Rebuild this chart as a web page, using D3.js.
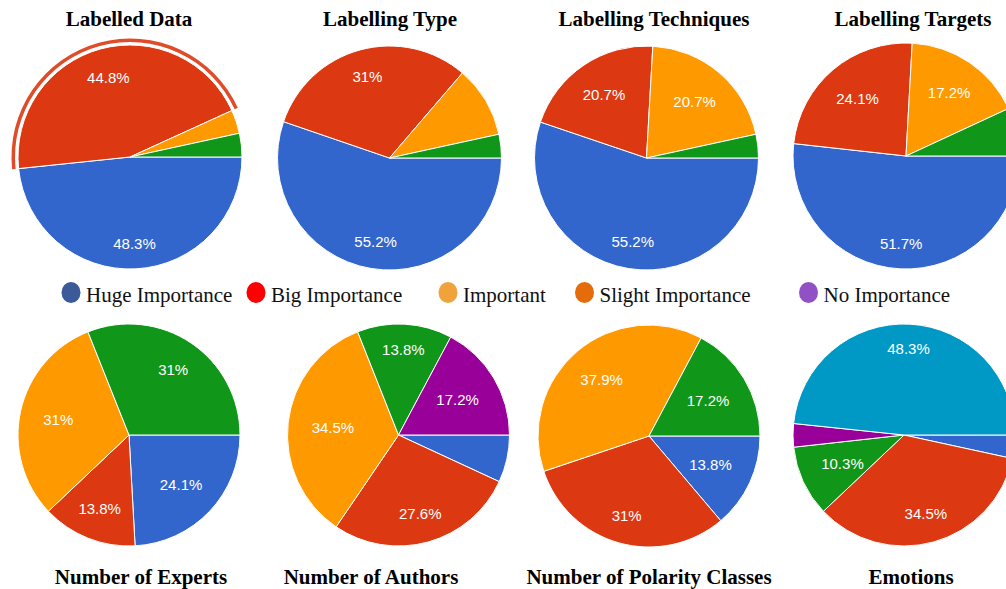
<!DOCTYPE html>
<html>
<head>
<meta charset="utf-8">
<script src="https://cdn.jsdelivr.net/npm/d3@7"></script>
<style>
  html, body { margin: 0; padding: 0; background: #fff; }
  .title { font-family: "Liberation Serif", "Times New Roman", serif; font-weight: bold; font-size: 21px; fill: #000; }
  .legend-text { font-family: "Liberation Serif", "Times New Roman", serif; font-size: 21px; fill: #111; }
  .slice-label { font-family: "Liberation Sans", Arial, sans-serif; font-size: 15px; fill: #fff; }
</style>
</head>
<body>
<div id="chart"></div>
<script>
const SVG_WIDTH = 1006,
  SVG_HEIGHT = 589;

// slice colours, in the order the answers are listed
const SLICE_COLORS = ["#3366cc", "#dc3912", "#ff9900", "#109618", "#990099", "#0099c6"];

// percentages per chart, same order as SLICE_COLORS
const labelledData = [48.3, 44.8, 3.4, 3.4];
const labellingType = [55.2, 31, 10.3, 3.4];
const labellingTechniques = [55.2, 20.7, 20.7, 3.4];
const labellingTargets = [51.7, 24.1, 17.2, 6.9];
const numberOfExperts = [24.1, 13.8, 31, 31];
const numberOfAuthors = [6.9, 27.6, 34.5, 13.8, 17.2];
const polarityClasses = [13.8, 31, 37.9, 17.2];
const emotions = [3.4, 34.5, 0, 10.3, 3.4, 48.3];

const chartTitles = [
  "Labelled Data", "Labelling Type", "Labelling Techniques", "Labelling Targets",
  "Number of Experts", "Number of Authors", "Number of Polarity Classes", "Emotions"
];
const chartValues = [
  labelledData, labellingType, labellingTechniques, labellingTargets,
  numberOfExperts, numberOfAuthors, polarityClasses, emotions
];

const legendNames = ["Huge Importance", "Big Importance", "Important", "Slight Importance", "No Importance"];
const legendColors = ["#3c5a99", "#ff0000", "#f0a33a", "#e46c0b", "#9150c6"];

// layout of the collage
const PIE_LAYOUT = [
  { cx: 130, cy: 157, r: 112, tx: 129, ty: 26, minLabel: 11 },
  { cx: 389.5, cy: 158, r: 112, tx: 390, ty: 26, minLabel: 11 },
  { cx: 646.5, cy: 158, r: 112, tx: 654, ty: 26, minLabel: 11 },
  { cx: 906, cy: 156, r: 113, tx: 913, ty: 26, minLabel: 11 },
  { cx: 129, cy: 435, r: 111, tx: 141, ty: 584, minLabel: 10 },
  { cx: 398.5, cy: 435, r: 111, tx: 371, ty: 584, minLabel: 10 },
  { cx: 649, cy: 436, r: 111, tx: 649, ty: 584, minLabel: 10 },
  { cx: 904, cy: 435, r: 111, tx: 911, ty: 584, minLabel: 10 }
];
const LEGEND_X = [71, 256, 448, 584.5, 808.5],
  LEGEND_Y = 292.5;
const HIGHLIGHT_CHART = 0,
  HIGHLIGHT_SLICE = 1;

var svg = d3
  .select("#chart")
  .append("svg")
  .attr("width", SVG_WIDTH)
  .attr("height", SVG_HEIGHT)
  .style("display", "block");

svg.append("rect").attr("width", SVG_WIDTH).attr("height", SVG_HEIGHT).attr("fill", "#fff");

var pie = d3
  .pie()
  .sort(null)
  .startAngle(Math.PI / 2)
  .endAngle(Math.PI / 2 + 2 * Math.PI)
  .value(function(d) { return d.value; });

function draw_pie(values, layout, index) {
  var g = svg
    .append("g")
    .attr("transform", "translate(" + layout.cx + "," + layout.cy + ")");

  var rows = values
    .map(function(v, i) { return { value: v, color: SLICE_COLORS[i] }; })
    .filter(function(d) { return d.value > 0; });
  var arcs = pie(rows);
  var arc = d3.arc().innerRadius(0).outerRadius(layout.r);

  g.selectAll("path.slice")
    .data(arcs)
    .enter()
    .append("path")
    .attr("class", "slice")
    .attr("d", arc)
    .attr("fill", function(d) { return d.data.color; })
    .attr("stroke", "#fff")
    .attr("stroke-width", 1);

  if (index === HIGHLIGHT_CHART) {
    /* hover ring round the highlighted slice */
    var h = arcs[HIGHLIGHT_SLICE];
    g.append("path")
      .attr("d", d3.arc()
        .innerRadius(layout.r + 3)
        .outerRadius(layout.r + 6.5)
        .startAngle(h.startAngle)
        .endAngle(h.endAngle)())
      .attr("fill", h.data.color)
      .attr("opacity", 0.9);
  }

  var labels = g.selectAll("text.slice-label")
    .data(arcs.filter(function(d) { return d.value >= layout.minLabel; }))
    .enter()
    .append("text")
    .attr("class", "slice-label")
    .attr("text-anchor", "middle")
    .attr("dy", "0.36em")
    .text(function(d) { return d.value + "%"; });

  labels.each(function(d) {
    // pull the label in so its box stays inside the slice
    var w = this.getComputedTextLength();
    var mid = (d.startAngle + d.endAngle) / 2;
    var dist = layout.r * 0.785 - (w / 2) * Math.abs(Math.sin(mid));
    d3.select(this)
      .attr("x", dist * Math.sin(mid))
      .attr("y", -dist * Math.cos(mid));
  });

  svg.append("text")
    .attr("class", "title")
    .attr("x", layout.tx)
    .attr("y", layout.ty)
    .attr("text-anchor", "middle")
    .text(chartTitles[index]);
}

chartValues.forEach(function(values, i) {
  draw_pie(values, PIE_LAYOUT[i], i);
});

var legend = svg
  .selectAll("g.legend")
  .data(legendNames)
  .enter()
  .append("g")
  .attr("class", "legend")
  .attr("transform", function(d, i) { return "translate(" + LEGEND_X[i] + "," + LEGEND_Y + ")"; });

legend.append("ellipse")
  .attr("rx", 9.5)
  .attr("ry", 10.5)
  .attr("fill", function(d, i) { return legendColors[i]; });

legend.append("text")
  .attr("class", "legend-text")
  .attr("x", 15)
  .attr("y", 9.5)
  .text(function(d) { return d; });
</script>
</body>
</html>
